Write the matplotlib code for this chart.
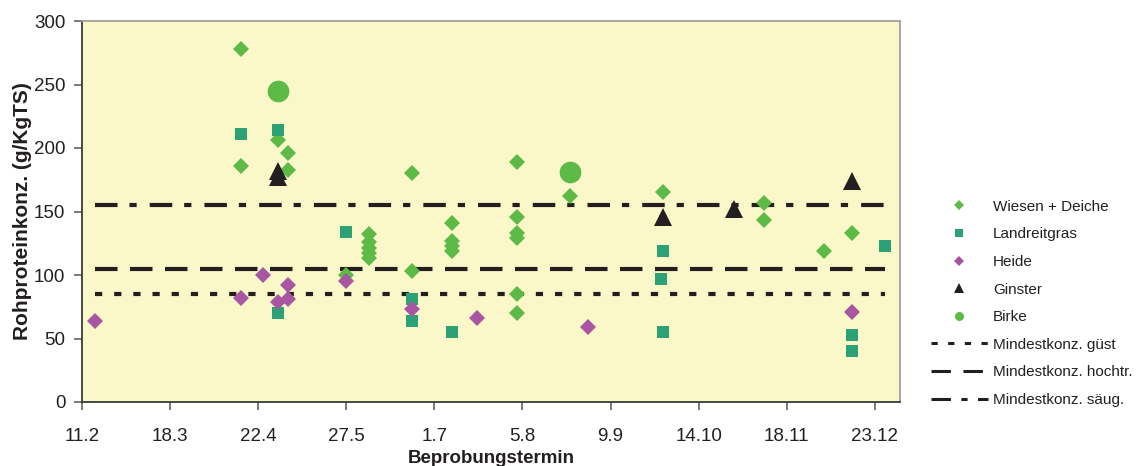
import datetime as dt
import matplotlib
matplotlib.use("Agg")
import matplotlib.pyplot as plt
from matplotlib.lines import Line2D

plt.rcParams['font.family'] = ['Liberation Sans', 'DejaVu Sans']
plt.rcParams['lines.scale_dashes'] = False

# Sampling dates (day.month) and crude protein values in g/kg TS
wiesen_dates = ["15.4", "15.4", "30.4", "4.5", "4.5", "27.5",
                "5.6", "5.6", "5.6", "5.6", "5.6",
                "22.6", "22.6", "8.7", "8.7", "8.7", "8.7",
                "3.8", "3.8", "3.8", "3.8", "3.8", "3.8",
                "24.8", "30.9", "9.11", "9.11", "3.12", "14.12"]
wiesen_values = [278, 186, 206, 196, 183, 100,
                 132, 126, 121, 117, 113,
                 180, 103, 141, 127, 123, 119,
                 189, 146, 133, 129, 85, 70,
                 162, 165, 157, 143, 119, 133]

landreitgras_dates = ["15.4", "30.4", "30.4", "27.5", "22.6", "22.6", "8.7",
                      "29.9", "30.9", "30.9", "14.12", "14.12", "27.12"]
landreitgras_values = [211, 214, 70, 134, 81, 64, 55,
                       97, 119, 55, 53, 40, 123]

heide_dates = ["16.2", "15.4", "24.4", "30.4", "4.5", "4.5", "27.5",
               "22.6", "18.7", "31.8", "14.12"]
heide_values = [64, 82, 100, 79, 92, 81, 95, 73, 66, 59, 71]

ginster_dates = ["30.4", "30.4", "30.9", "28.10", "14.12"]
ginster_values = [182, 177, 146, 152, 174]

birke_dates = ["30.4", "24.8"]
birke_values = [245, 181]

# Minimum concentrations
min_guest = 85
min_hochtr = 105
min_saeug = 155
threshold_span = ["16.2", "27.12"]

tick_labels = ["11.2", "18.3", "22.4", "27.5", "1.7", "5.8", "9.9",
               "14.10", "18.11", "23.12"]
x_end = "2.1"


def doy(s, year=2009):
    d, m = (int(v) for v in s.split("."))
    return dt.date(year, m, d).timetuple().tm_yday


GREEN = "#5DBA47"
TEAL = "#2DA176"
PURPLE = "#A956A2"
BLACK = "#231F20"

fig = plt.figure(figsize=(11.41, 4.66), dpi=100)
ax = fig.add_axes([82 / 1141, 1 - 402 / 466, 818 / 1141, 381 / 466])
ax.set_facecolor("#FAF7C9")

x0, x1 = (doy(s) for s in threshold_span)
ax.plot([x0, x1], [min_guest] * 2, color=BLACK, lw=3.0,
        dashes=(5.2, 8.6), dash_capstyle='butt', zorder=2)
ax.plot([x0, x1], [min_hochtr] * 2, color=BLACK, lw=3.0,
        dashes=(16.2, 9.0), dash_capstyle='butt', zorder=2)
ax.plot([x0, x1], [min_saeug] * 2, color=BLACK, lw=3.0,
        dashes=(16.2, 8.6, 5.2, 9.4), dash_capstyle='butt', zorder=2)

ax.plot([doy(s) for s in wiesen_dates], wiesen_values, ls='none', marker='D',
        ms=8.6, color=GREEN, mew=0, zorder=3)
ax.plot([doy(s) for s in landreitgras_dates], landreitgras_values, ls='none',
        marker='s', ms=9.0, color=TEAL, mew=0, zorder=3)
ax.plot([doy(s) for s in heide_dates], heide_values, ls='none', marker='D',
        ms=8.6, color=PURPLE, mew=0, zorder=3)
ax.plot([doy(s) for s in ginster_dates], ginster_values, ls='none', marker='^',
        ms=13, color=BLACK, mew=0, zorder=3)
ax.plot([doy(s) for s in birke_dates], birke_values, ls='none', marker='o',
        ms=15.6, color=GREEN, mew=0, zorder=3)

ax.set_xlim(doy(tick_labels[0]), doy(x_end, 2009) + 365)
ax.set_ylim(0, 300)
ax.set_xticks([doy(s) for s in tick_labels])
ax.set_xticklabels(tick_labels)
ax.set_yticks(range(0, 301, 50))

for side in ("top", "right"):
    ax.spines[side].set_color("#A0A0A0")
    ax.spines[side].set_linewidth(1.3)
for side in ("left", "bottom"):
    ax.spines[side].set_color("#3A3A3A")
    ax.spines[side].set_linewidth(1.3)
ax.tick_params(direction='out', length=6, width=1.1, color="#555555",
               labelsize=13.5, labelcolor=BLACK)
ax.tick_params(axis='y', pad=6)
ax.tick_params(axis='x', pad=13)

ax.set_xlabel("Beprobungstermin", fontsize=13.5, fontweight='bold',
              color=BLACK, labelpad=3)
ax.set_ylabel("Rohproteinkonz. (g/KgTS)", fontsize=15, fontweight='bold',
              color=BLACK, labelpad=1.5)

handles = [
    Line2D([], [], ls='none', marker='D', ms=5.2, color=GREEN, mew=0),
    Line2D([], [], ls='none', marker='s', ms=6.0, color=TEAL, mew=0),
    Line2D([], [], ls='none', marker='D', ms=5.2, color=PURPLE, mew=0),
    Line2D([], [], ls='none', marker='^', ms=7.5, color=BLACK, mew=0),
    Line2D([], [], ls='none', marker='o', ms=6.5, color=GREEN, mew=0),
    Line2D([], [], color=BLACK, lw=2.2, dashes=(4.5, 7.5)),
    Line2D([], [], color=BLACK, lw=2.2, dashes=(14, 9)),
    Line2D([], [], color=BLACK, lw=2.2, dashes=(14, 7.5, 4.5, 7.5)),
]
labels = ["Wiesen + Deiche", "Landreitgras", "Heide", "Ginster", "Birke",
          "Mindestkonz. güst", "Mindestkonz. hochtr.", "Mindestkonz. säug."]
fig.legend(handles, labels, loc='center left', bbox_to_anchor=(931 / 1141, 0.349),
           frameon=False, fontsize=11, handlelength=3.7, handletextpad=0.35,
           labelspacing=0.89, borderpad=0, borderaxespad=0, labelcolor=BLACK)

fig.savefig("out.png", dpi=100)
